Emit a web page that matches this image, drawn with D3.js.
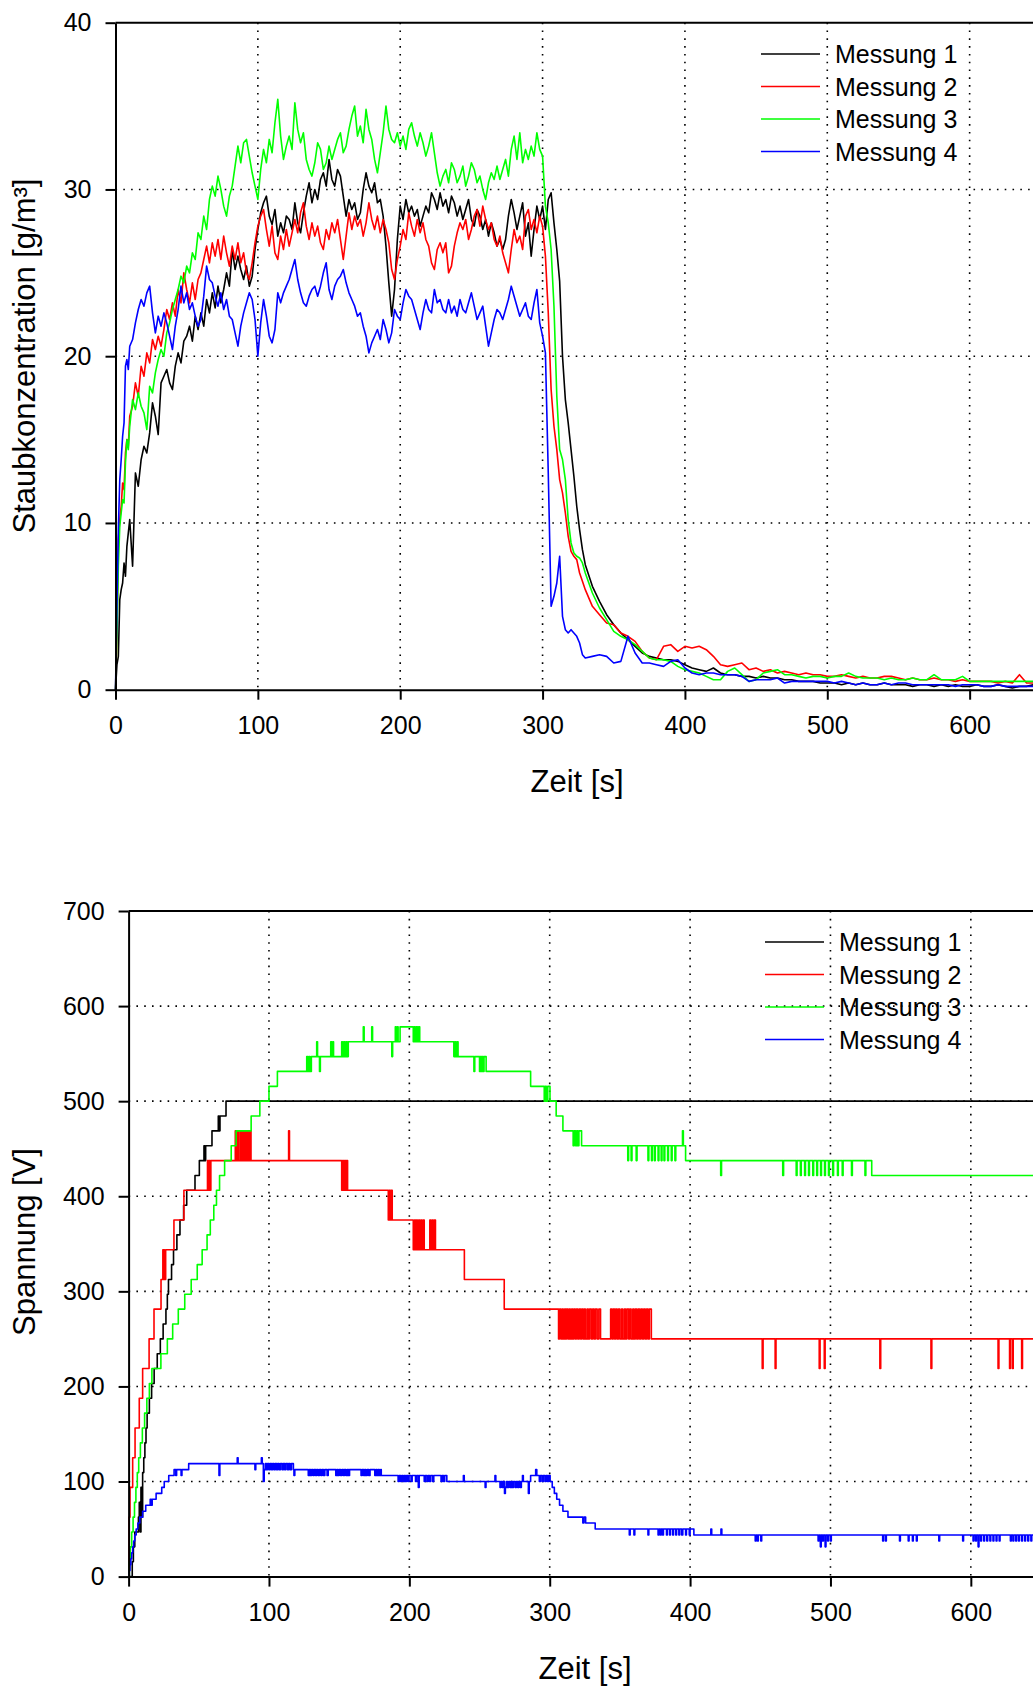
<!DOCTYPE html>
<html>
<head>
<meta charset="utf-8">
<script src="https://cdn.jsdelivr.net/npm/d3@7"></script>
<style>
  body { margin: 0; background: #fff; }
  svg text { font-family: "Liberation Sans", Arial, Helvetica, sans-serif; fill: #000; }
</style>
</head>
<body>
<svg id="chart" width="1033" height="1688"></svg>
<script>
// ---- series labels and colours ----
const seriesNames = ["Messung 1", "Messung 2", "Messung 3", "Messung 4"];
const seriesColors = ["#000000", "#ff0000", "#00ff00", "#0000ff"];

// ---- axis ticks ----
const timeTicks = [0, 100, 200, 300, 400, 500, 600];
const dustTicks = [0, 10, 20, 30, 40];
const voltTicks = [0, 100, 200, 300, 400, 500, 600, 700];

// ---- dust concentration [g/m³], sampled at these times [s] ----
const dustTime = [
  0, 1, 2, 3, 4, 5, 6, 7, 8, 9,
  10, 12, 14, 16, 18, 20, 22, 24, 26, 28,
  30, 32, 34, 36, 38, 40, 42, 44, 46, 48,
  50, 52, 54, 56, 58, 60, 62, 64, 66, 68,
  70, 72, 74, 76, 78, 80, 82, 84, 86, 88,
  90, 92, 94, 96, 98, 100, 102, 104, 106, 108,
  110, 112, 114, 116, 118, 120, 122, 124, 126, 128,
  130, 132, 134, 136, 138, 140, 142, 144, 146, 148,
  150, 152, 154, 156, 158, 160, 162, 164, 166, 168,
  170, 172, 174, 176, 178, 180, 182, 184, 186, 188,
  190, 192, 194, 196, 198, 200, 202, 204, 206, 208,
  210, 212, 214, 216, 218, 220, 222, 224, 226, 228,
  230, 232, 234, 236, 238, 240, 242, 244, 246, 248,
  250, 252, 254, 256, 258, 260, 262, 264, 266, 268,
  270, 272, 274, 276, 278, 280, 282, 284, 286, 288,
  290, 292, 294, 296, 298, 300, 302, 304, 306, 308,
  310, 312, 314, 316, 318, 320, 322, 324, 326, 328,
  330, 335, 340, 345, 350, 355, 360, 365, 370, 375,
  380, 385, 390, 395, 400, 405, 410, 415, 420, 425,
  430, 435, 440, 445, 450, 455, 460, 465, 470, 475,
  480, 485, 490, 495, 500, 505, 510, 515, 520, 525,
  530, 535, 540, 545, 550, 555, 560, 565, 570, 575,
  580, 585, 590, 595, 600, 605, 610, 615, 620, 625,
  630, 635, 640, 645, 650
];

const dust1 = [
  0, 1.5, 2.0, 5.4, 6.0, 6.4, 7.6, 6.8, 8.6, 9.4,
  10.2, 7.4, 13.0, 12.2, 13.8, 14.6, 14.2, 15.4, 17.2, 16.4,
  15.3, 18.4, 18.8, 19.2, 18.4, 18.0, 19.4, 20.2, 19.6, 20.9,
  21.2, 21.8, 20.9, 22.4, 21.6, 22.6, 21.8, 23.4, 22.6, 23.8,
  22.9, 24.2, 23.2, 24.0, 25.0, 24.2, 26.4, 25.2, 26.0, 25.2,
  24.6, 25.4, 24.2, 24.8, 26.4, 27.6, 28.6, 29.2, 29.6, 28.4,
  27.9, 28.8, 27.2, 28.0, 27.4, 28.4, 28.2, 27.6, 29.2, 28.0,
  27.4, 28.6, 29.6, 30.4, 29.2, 30.0, 29.4, 30.6, 31.0, 30.2,
  31.8, 30.6, 30.2, 31.2, 30.8, 29.6, 28.4, 29.4, 28.8, 29.2,
  28.2, 28.6, 30.0, 31.0, 30.2, 29.8, 30.4, 29.2, 29.4, 28.4,
  26.6, 24.4, 22.4, 24.0, 27.0, 29.0, 28.2, 29.4, 28.6, 29.0,
  28.4, 28.8, 27.8, 28.4, 29.0, 28.6, 29.8, 29.4, 28.8, 29.8,
  29.0, 29.4, 28.6, 29.6, 29.2, 28.4, 29.0, 28.2, 28.8, 29.4,
  28.2, 27.8, 28.8, 28.4, 27.6, 28.2, 27.2, 28.0, 27.4, 26.6,
  27.0, 26.4, 27.0, 28.4, 29.4, 28.6, 27.6, 28.4, 29.2, 27.2,
  28.0, 26.0, 27.6, 29.0, 28.2, 29.0, 27.6, 29.4, 29.8, 28.0,
  26.4, 24.5, 20.0, 17.4, 16.0, 14.4, 12.8, 11.0, 9.6, 8.4,
  7.5, 6.2, 5.3, 4.5, 3.9, 3.4, 3.0, 2.6, 2.2, 2.0,
  1.9, 1.8, 1.8, 1.7, 1.5, 1.3, 1.2, 1.1, 1.3, 1.0,
  0.9, 0.9, 0.8, 0.8, 0.7, 0.8, 0.7, 0.7, 0.6, 0.6,
  0.5, 0.5, 0.5, 0.4, 0.4, 0.4, 0.3, 0.4, 0.3, 0.4,
  0.3, 0.3, 0.4, 0.3, 0.3, 0.3, 0.2, 0.3, 0.3, 0.2,
  0.3, 0.2, 0.3, 0.2, 0.2, 0.3, 0.2, 0.2, 0.3, 0.2,
  0.1, 0.2, 0.2, 0.3, 0.2
];

const dust2 = [
  0, 3.4, 9.0, 10.2, 11.0, 12.4, 12.0, 14.2, 15.0, 14.6,
  16.4, 17.0, 18.4, 17.6, 19.4, 18.8, 20.2, 19.6, 21.0, 20.4,
  21.2, 20.6, 21.6, 22.8, 22.2, 23.2, 22.4, 24.0, 23.2, 25.0,
  24.0, 23.2, 24.4, 23.4, 24.6, 25.0, 25.8, 26.6, 25.6, 26.8,
  26.0, 27.0, 25.8, 27.2, 26.2, 25.4, 26.6, 25.8, 26.8, 25.6,
  26.2, 25.0, 24.6, 25.6, 26.8, 27.8, 28.4, 28.8, 27.6, 26.6,
  27.8, 26.2, 25.8, 27.2, 26.4, 27.6, 26.6, 27.4, 28.2, 27.4,
  28.6, 29.2, 27.8, 27.0, 28.0, 27.2, 27.8, 26.8, 26.4, 27.6,
  27.0, 28.0, 27.4, 28.2, 27.0, 25.8, 27.2, 28.6, 27.6, 28.4,
  27.8, 28.2, 27.2, 28.0, 29.2, 28.2, 27.6, 28.4, 27.4, 28.2,
  27.6, 26.8, 25.2, 24.6, 25.8, 26.6, 27.6, 27.0, 28.6, 27.8,
  27.2, 28.2, 27.4, 28.0, 27.0, 26.6, 25.6, 25.2, 26.4, 26.8,
  26.2, 26.8, 25.0, 25.4, 26.6, 27.4, 28.0, 27.6, 28.2, 27.0,
  27.6, 28.4, 28.8, 27.8, 29.0, 28.2, 27.6, 28.0, 27.0, 26.6,
  27.2, 26.2, 25.6, 25.0, 26.4, 27.6, 26.8, 27.2, 26.4, 28.4,
  28.8, 27.6, 28.2, 27.4, 28.4, 27.8, 26.0, 22.6, 18.0, 15.8,
  14.4, 12.6, 11.8, 10.6, 9.2, 8.3, 8.0, 7.8, 7.0, 6.5,
  6.0, 5.0, 4.5, 4.0, 3.9, 3.4, 3.2, 2.9, 2.3, 1.9,
  1.8, 2.6, 2.7, 2.3, 2.6, 2.5, 2.6, 2.4, 2.0, 1.5,
  1.4, 1.5, 1.6, 1.2, 1.3, 1.1, 1.2, 1.0, 1.1, 1.0,
  0.9, 1.0, 0.9, 0.9, 0.8, 0.8, 0.9, 0.8, 0.7, 0.8,
  0.7, 0.7, 0.8, 0.8, 0.7, 0.6, 0.7, 0.6, 0.6, 0.7,
  0.6, 0.6, 0.5, 0.6, 0.5, 0.5, 0.5, 0.5, 0.4, 0.5,
  0.4, 0.9, 0.4, 0.4, 0.4
];

const dust3 = [
  0, 3.4, 7.4, 9.8, 10.6, 11.4, 11.2, 13.6, 15.0, 14.4,
  15.8, 17.4, 16.8, 17.8, 17.0, 16.6, 15.6, 18.2, 17.8, 19.0,
  19.8, 20.4, 20.0, 21.4, 22.0, 22.8, 23.4, 24.0, 24.8, 24.4,
  25.4, 25.0, 26.2, 25.8, 27.4, 27.0, 28.4, 27.6, 29.4, 30.2,
  29.6, 30.8, 30.0, 29.0, 28.4, 29.6, 30.2, 31.4, 32.6, 31.6,
  32.8, 33.0, 32.0, 31.0, 30.2, 29.4, 31.2, 32.4, 31.6, 33.0,
  32.2, 34.0, 35.4, 33.2, 31.8, 32.6, 33.2, 32.4, 35.2, 33.6,
  32.8, 33.4, 31.8, 31.2, 30.8, 31.6, 32.8, 32.4, 31.2, 31.6,
  32.6, 31.8, 32.4, 33.0, 33.4, 32.2, 32.6, 33.6, 34.4, 35.0,
  33.2, 33.8, 32.8, 34.8, 33.6, 33.0, 31.8, 31.0, 32.2, 33.4,
  35.0, 33.6, 33.0, 32.8, 33.4, 32.6, 33.2, 32.4, 33.6, 34.0,
  33.2, 32.6, 33.4, 32.8, 32.0, 32.6, 33.4, 32.2, 31.0, 30.2,
  30.8, 31.2, 30.4, 31.6, 31.2, 30.4, 30.8, 31.4, 30.2, 30.8,
  31.6, 31.2, 30.4, 30.8, 30.0, 29.4, 30.4, 31.0, 30.6, 31.4,
  30.6, 31.2, 31.8, 30.8, 32.4, 33.2, 31.8, 33.4, 31.6, 32.4,
  31.8, 32.6, 32.0, 33.4, 32.4, 32.0, 29.0, 28.0, 26.4, 23.0,
  17.6, 14.4, 13.8, 12.6, 10.2, 8.8, 8.2, 8.0, 7.9, 7.6,
  7.0, 5.8, 4.9, 4.2, 3.5, 3.2, 3.0, 2.7, 2.3, 1.9,
  1.8, 1.8, 1.7, 1.4, 1.2, 1.1, 1.0, 0.8, 0.6, 0.6,
  1.1, 1.3, 0.9, 0.5, 0.6, 1.0, 1.1, 1.2, 0.9, 0.9,
  0.8, 0.7, 0.8, 0.8, 0.7, 0.8, 0.8, 1.0, 0.8, 0.7,
  0.7, 0.7, 0.6, 0.7, 0.6, 0.6, 0.7, 0.6, 0.6, 0.9,
  0.6, 0.6, 0.6, 0.8, 0.5, 0.5, 0.5, 0.5, 0.5, 0.5,
  0.5, 0.5, 0.5, 0.5, 0.5
];

const dust4 = [
  0, 5.0, 9.6, 12.6, 13.8, 15.2, 16.0, 19.4, 19.8, 19.2,
  20.6, 21.0, 22.0, 22.8, 23.4, 23.0, 23.8, 24.2, 22.6, 21.4,
  22.4, 21.8, 22.6, 22.0, 21.2, 20.4, 21.8, 22.8, 24.2, 23.2,
  23.8, 22.8, 23.2, 22.4, 21.8, 22.2, 23.6, 25.4, 24.6, 24.4,
  23.6, 23.0, 23.8, 22.8, 23.4, 22.4, 22.2, 21.4, 20.6, 21.8,
  22.6, 23.2, 23.8, 23.4, 22.2, 20.0, 22.0, 23.4, 22.4, 21.2,
  20.8, 21.6, 23.8, 23.2, 23.8, 24.2, 24.6, 25.2, 25.8, 24.6,
  23.8, 23.2, 23.0, 23.6, 24.0, 24.2, 23.6, 24.2, 25.0, 25.6,
  24.0, 23.4, 24.2, 24.6, 24.8, 25.2, 24.4, 23.8, 23.4, 23.0,
  22.4, 22.6, 21.8, 21.2, 20.2, 20.8, 21.2, 21.6, 21.0, 22.2,
  21.6, 20.8, 21.4, 22.8, 22.4, 22.2, 23.2, 24.0, 23.6, 23.4,
  22.8, 22.2, 21.6, 22.6, 23.4, 22.8, 22.6, 24.0, 23.2, 23.4,
  22.8, 22.6, 23.4, 22.6, 23.0, 22.4, 23.4, 22.8, 22.6, 23.2,
  23.8, 23.0, 22.2, 22.6, 23.0, 21.8, 20.6, 21.4, 22.2, 22.8,
  22.6, 22.2, 22.8, 23.4, 24.2, 23.6, 23.0, 22.4, 22.8, 23.2,
  22.4, 22.2, 23.2, 24.0, 22.0, 21.2, 20.2, 13.0, 5.0, 5.6,
  6.4, 8.0, 4.4, 3.6, 3.4, 3.6, 3.4, 3.2, 2.8, 2.1,
  1.9, 2.0, 2.1, 2.0, 1.6, 1.7, 3.2, 2.2, 1.6, 1.6,
  1.5, 1.4, 1.7, 1.8, 1.3, 1.0, 0.9, 1.0, 1.0, 0.9,
  0.9, 0.9, 0.8, 0.5, 0.6, 0.6, 0.6, 0.7, 0.4, 0.5,
  0.5, 0.5, 0.5, 0.5, 0.5, 0.4, 0.5, 0.4, 0.3, 0.4,
  0.3, 0.3, 0.4, 0.3, 0.4, 0.4, 0.3, 0.3, 0.3, 0.3,
  0.3, 0.3, 0.2, 0.3, 0.3, 0.3, 0.2, 0.2, 0.3, 0.2,
  0.2, 0.2, 0.2, 0.2, 0.2
];

// ---- electrode voltage [V]: [time s, level V], each level held until the next entry ----
const volt1 = [
  [0, 0], [2.6, 15.6], [3.4, 31.3], [4.4, 46.9], [7.0, 62.5], [7.6, 78.1], [8.2, 46.9], [8.8, 93.8],
  [9.4, 62.5], [10.0, 109.4], [10.8, 125], [11.6, 140.6], [12.4, 156.3], [13.2, 171.9], [14.8, 187.5],
  [16.4, 203.1], [18.2, 218.8], [20.4, 234.4], [22.6, 250], [24.6, 265.6], [26.6, 281.3], [27.6, 296.9],
  [28.4, 312.5], [30.6, 328.1], [32.0, 343.8], [34.4, 359.4], [36.6, 375], [39.2, 390.6], [41.4, 406.3],
  [47.3, 421.9], [50.4, 437.5], [53.7, 453.1], [54.3, 437.5], [54.9, 453.1], [59.4, 468.8], [63.9, 484.4],
  [64.5, 468.8], [65.1, 484.4], [69.4, 500], [700, 500]
];

const volt2 = [
  [0, 0], [0.3, 62.5], [1.0, 93.8], [2.9, 125], [4.6, 156.3], [7.6, 187.5], [10.0, 218.8], [14.6, 250],
  [18.1, 281.3], [23.1, 312.5], [24.4, 343.8], [24.8, 312.5], [25.2, 343.8], [25.6, 312.5], [26.4, 343.8],
  [32.3, 375], [39.4, 406.3], [56.2, 437.5], [56.8, 406.3], [57.4, 437.5], [58.0, 406.3], [58.6, 437.5],
  [76.0, 468.8], [76.8, 437.5], [77.6, 468.8], [78.2, 437.5], [79.4, 468.8], [80.0, 437.5], [80.8, 468.8],
  [81.4, 437.5], [82.4, 468.8], [83.0, 437.5], [83.8, 468.8], [84.4, 437.5], [85.4, 468.8], [86.0, 437.5],
  [86.6, 468.8], [87.2, 437.5], [114.0, 468.8], [114.6, 437.5],
  [151.8, 406.3], [152.4, 437.5], [153.2, 406.3], [153.8, 437.5], [154.6, 406.3], [155.2, 437.5], [156.0, 406.3],
  [185.0, 375], [185.6, 406.3], [186.4, 375], [187.0, 406.3], [187.8, 375],
  [202.8, 343.8], [203.6, 375], [204.4, 343.8], [205.0, 375], [205.8, 343.8], [206.6, 375], [207.4, 343.8],
  [208.2, 375], [209.0, 343.8], [209.8, 375], [210.6, 343.8], [214.6, 375], [215.4, 343.8], [216.2, 375],
  [217.0, 343.8], [217.8, 375], [218.6, 343.8],
  [239.2, 312.5], [267.6, 281.3],
  [306.3, 250], [307.0, 281.3], [308.0, 250], [308.8, 281.3], [309.6, 250], [310.6, 281.3], [311.4, 250],
  [312.0, 281.3], [313.0, 250], [313.8, 281.3], [314.6, 250], [315.6, 281.3], [316.4, 250], [317.2, 281.3],
  [318.2, 250], [319.0, 281.3], [320.0, 250], [321.0, 281.3], [322.0, 250], [322.8, 281.3], [323.8, 250],
  [324.6, 281.3], [325.4, 250], [326.6, 281.3], [327.4, 250], [328.4, 281.3], [329.6, 250], [330.6, 281.3],
  [331.6, 250], [332.6, 281.3], [333.8, 250], [335.0, 281.3], [336.2, 250],
  [343.4, 281.3], [344.4, 250], [345.2, 281.3], [346.2, 250], [347.0, 281.3], [348.0, 250], [349.0, 281.3],
  [350.0, 250], [351.2, 281.3], [352.0, 250], [353.2, 281.3], [354.0, 250], [355.0, 281.3], [356.2, 250],
  [357.0, 281.3], [358.0, 250], [359.2, 281.3], [360.0, 250], [361.0, 281.3], [362.0, 250], [363.0, 281.3],
  [364.0, 250], [365.0, 281.3], [366.0, 250], [367.0, 281.3], [368.0, 250], [369.0, 281.3], [370.0, 250],
  [371.0, 281.3], [372.4, 250],
  [451.4, 218.8], [452.0, 250], [460.6, 218.8], [461.2, 250], [492.0, 218.8], [492.6, 250], [495.6, 218.8],
  [496.2, 250], [535.2, 218.8], [535.8, 250], [571.6, 218.8], [572.2, 250], [619.4, 218.8], [620.0, 250],
  [627.6, 218.8], [628.2, 250], [629.6, 218.8], [630.2, 250], [636.2, 218.8], [636.8, 250], [700, 250]
];

const volt3 = [
  [0, 0], [0.5, 15.6], [1.2, 31.3], [2.2, 46.9], [3.2, 62.5], [4.2, 78.1], [5.2, 93.8], [6.2, 109.4],
  [7.2, 125], [8.4, 140.6], [9.8, 156.3], [11.4, 171.9], [13.0, 187.5], [14.8, 203.1], [16.6, 218.8],
  [23.0, 234.4], [27.6, 250], [31.4, 265.6], [35.4, 281.3], [40.0, 296.9], [44.6, 312.5], [48.9, 328.1],
  [52.4, 343.8], [55.9, 359.4], [58.2, 375], [60.7, 390.6], [62.6, 406.3], [64.8, 421.9], [68.4, 437.5],
  [73.1, 453.1], [76.6, 468.8], [87.3, 484.4], [93.5, 500], [100.0, 515.6], [106.0, 531.3],
  [126.9, 546.9], [127.6, 531.3], [128.4, 546.9], [129.2, 531.3], [130.2, 546.9], [134.0, 562.5],
  [134.6, 546.9], [136.0, 531.3], [136.6, 546.9], [144.0, 562.5], [144.6, 546.9], [145.4, 562.5],
  [146.0, 546.9], [151.8, 562.5], [152.4, 546.9], [153.2, 562.5], [154.0, 546.9], [154.8, 562.5],
  [155.6, 546.9], [156.5, 562.5], [167.2, 578.1], [167.8, 562.5], [173.2, 578.1], [173.8, 562.5],
  [187.5, 546.9], [188.1, 562.5], [190.0, 578.1], [190.6, 562.5], [191.4, 578.1], [192.0, 562.5],
  [193.4, 578.1], [202.8, 562.5], [203.4, 578.1], [204.2, 562.5], [205.0, 578.1], [205.8, 562.5],
  [206.6, 578.1], [207.4, 562.5], [231.7, 546.9], [232.3, 562.5], [233.1, 546.9], [233.9, 562.5],
  [234.7, 546.9], [246.0, 531.3], [246.6, 546.9], [250.0, 531.3], [250.6, 546.9], [251.4, 531.3],
  [252.0, 546.9], [252.6, 531.3], [253.2, 546.9], [254.7, 531.3],
  [286.4, 515.6], [296.1, 500], [296.8, 515.6], [297.6, 500], [298.6, 515.6], [300.2, 500], [304.6, 484.4],
  [309.4, 468.8], [316.7, 453.1], [317.4, 468.8], [318.4, 453.1], [319.2, 468.8], [320.0, 453.1],
  [320.8, 468.8], [322.7, 453.1],
  [355.6, 437.5], [356.2, 453.1], [358.0, 437.5], [358.6, 453.1], [361.6, 437.5], [362.2, 453.1],
  [370.0, 437.5], [370.6, 453.1], [372.5, 437.5], [373.1, 453.1], [374.6, 437.5], [375.2, 453.1],
  [377.2, 437.5], [377.8, 453.1], [379.4, 437.5], [380.0, 453.1], [381.4, 437.5], [382.0, 453.1],
  [384.0, 437.5], [384.6, 453.1], [386.6, 437.5], [387.2, 453.1], [389.2, 437.5], [389.8, 453.1],
  [394.6, 468.8], [395.2, 453.1], [396.8, 437.5],
  [421.8, 421.9], [422.4, 437.5], [466.0, 421.9], [466.6, 437.5], [475.6, 421.9], [476.2, 437.5],
  [478.6, 421.9], [479.2, 437.5], [481.6, 421.9], [482.2, 437.5], [484.4, 421.9], [485.0, 437.5],
  [487.4, 421.9], [488.0, 437.5], [490.2, 421.9], [490.8, 437.5], [493.0, 421.9], [493.6, 437.5],
  [495.8, 421.9], [496.4, 437.5], [498.6, 421.9], [499.2, 437.5], [501.6, 421.9], [502.2, 437.5],
  [505.0, 421.9], [505.6, 437.5], [508.4, 421.9], [509.0, 437.5], [515.0, 421.9], [515.6, 437.5],
  [524.6, 421.9], [525.2, 437.5], [529.4, 421.9], [700, 421.9]
];

const volt4 = [
  [0, 0], [0.5, 6.3], [1.0, 12.5], [1.6, 18.8], [2.2, 25], [2.9, 31.3], [3.6, 37.5], [4.4, 43.8],
  [5.4, 50], [6.6, 56.3], [8.0, 62.5], [10.0, 68.8], [12.2, 75], [15.4, 81.3], [16.2, 75], [16.8, 81.3],
  [19.6, 87.5], [23.6, 93.8], [25.4, 100], [28.6, 106.3], [32.4, 112.5], [33.6, 106.3], [34.2, 112.5],
  [37.4, 106.3], [38.0, 112.5], [42.8, 118.8],
  [64.4, 106.3], [65.0, 118.8], [77.4, 125], [78.0, 118.8], [90.0, 112.5], [90.6, 118.8], [94.6, 125],
  [95.2, 118.8], [96.0, 100], [96.6, 112.5], [97.4, 118.8], [98.2, 112.5], [99.0, 118.8], [100.0, 112.5],
  [100.8, 118.8], [101.8, 112.5], [102.6, 118.8], [103.6, 112.5], [104.4, 118.8], [105.4, 112.5],
  [106.2, 118.8], [107.2, 112.5], [108.2, 118.8], [109.4, 112.5], [110.2, 118.8], [111.2, 112.5],
  [112.0, 118.8], [113.2, 112.5], [114.0, 118.8], [115.0, 112.5], [116.0, 118.8], [117.4, 112.5],
  [117.8, 106.3], [118.4, 112.5],
  [128.0, 106.3], [128.8, 112.5], [129.6, 106.3], [130.4, 112.5], [131.4, 106.3], [132.2, 112.5],
  [133.2, 106.3], [134.0, 112.5], [135.0, 106.3], [136.0, 112.5], [137.0, 106.3], [137.8, 112.5],
  [138.8, 106.3], [139.8, 112.5], [141.4, 106.3], [142.2, 112.5],
  [147.6, 106.3], [148.4, 112.5], [149.2, 106.3], [150.0, 112.5], [151.0, 106.3], [152.0, 112.5],
  [153.0, 106.3], [153.8, 112.5], [154.8, 106.3], [155.8, 112.5], [156.6, 106.3], [157.4, 112.5],
  [165.6, 106.3], [166.4, 112.5], [167.4, 106.3], [168.2, 112.5], [169.0, 106.3], [170.0, 112.5],
  [171.0, 106.3], [172.0, 112.5], [175.4, 106.3], [176.2, 112.5], [177.0, 106.3], [177.8, 112.5],
  [178.6, 106.3], [179.6, 112.5], [180.0, 106.3],
  [192.0, 100], [192.8, 106.3], [193.8, 100], [194.6, 106.3], [195.6, 100], [196.4, 106.3], [197.2, 100],
  [198.0, 106.3], [199.0, 100], [199.8, 106.3], [201.2, 100], [202.0, 106.3], [204.4, 100], [205.2, 106.3],
  [206.4, 93.8], [207.0, 106.3], [210.6, 100], [211.4, 106.3], [212.6, 100], [213.4, 106.3], [214.4, 100],
  [215.2, 106.3], [216.6, 100], [217.4, 106.3], [222.6, 100], [223.4, 106.3], [224.4, 100], [225.2, 106.3],
  [226.7, 100],
  [238.5, 106.3], [239.1, 100], [254.0, 93.8], [254.6, 100], [261.0, 106.3], [261.6, 100],
  [264.6, 93.8], [265.2, 100], [266.2, 93.8], [266.8, 100], [267.8, 87.5], [268.4, 93.8], [269.2, 100],
  [270.0, 93.8], [270.8, 100], [271.8, 93.8], [272.6, 100], [273.4, 93.8], [274.2, 100], [275.4, 93.8],
  [276.2, 100], [277.2, 93.8], [278.0, 100], [279.0, 93.8], [279.8, 100], [280.6, 106.3], [281.2, 100],
  [284.8, 87.5], [285.4, 100], [286.4, 106.3], [290.0, 112.5], [290.8, 106.3], [292.6, 100], [293.4, 106.3],
  [294.6, 100], [295.4, 106.3], [296.6, 100], [297.4, 106.3], [298.4, 100], [299.2, 106.3],
  [300.3, 100], [301.8, 93.8], [303.3, 87.5], [305.0, 81.3], [307.0, 75], [309.4, 68.8], [313.0, 62.5],
  [323.6, 56.3], [324.4, 62.5], [325.6, 56.3], [332.4, 50],
  [356.7, 43.8], [357.3, 50], [360.0, 43.8], [360.6, 50], [370.0, 43.8], [370.6, 50], [377.2, 43.8],
  [377.8, 50], [378.8, 43.8], [379.4, 50], [380.4, 43.8], [381.0, 50], [383.2, 43.8], [383.8, 50],
  [385.4, 43.8], [386.0, 50], [387.6, 43.8], [388.2, 50], [389.8, 43.8], [390.4, 50], [392.0, 43.8],
  [392.6, 50], [394.0, 43.8], [394.8, 50], [396.8, 43.8], [397.4, 50], [399.4, 43.8], [400.0, 50],
  [402.7, 43.8],
  [414.8, 50], [415.4, 43.8], [422.0, 50], [422.6, 43.8],
  [446.4, 37.5], [447.0, 43.8], [448.0, 37.5], [448.6, 43.8], [450.4, 37.5], [451.0, 43.8],
  [491.2, 37.5], [491.8, 43.8], [492.8, 31.3], [493.4, 43.8], [494.4, 37.5], [495.0, 43.8], [496.2, 31.3],
  [496.8, 43.8], [498.0, 37.5], [498.6, 43.8], [500.0, 37.5], [500.6, 43.8],
  [537.2, 37.5], [537.8, 43.8], [539.2, 37.5], [539.8, 43.8], [549.2, 37.5], [549.8, 43.8], [555.4, 37.5],
  [556.0, 43.8], [558.4, 37.5], [559.0, 43.8], [561.2, 37.5], [561.8, 43.8], [577.2, 37.5], [577.8, 43.8],
  [594.2, 37.5], [594.8, 43.8],
  [601.6, 37.5], [602.2, 43.8], [603.4, 37.5], [604.0, 43.8], [605.2, 31.3], [605.8, 43.8], [607.0, 37.5],
  [607.6, 43.8], [609.2, 37.5], [609.8, 43.8], [611.4, 37.5], [612.0, 43.8], [613.6, 37.5], [614.2, 43.8],
  [615.8, 37.5], [616.4, 43.8], [618.0, 37.5], [618.6, 43.8], [620.2, 37.5], [620.8, 43.8],
  [628.2, 37.5], [628.8, 43.8], [630.0, 37.5], [630.6, 43.8], [632.0, 37.5], [632.6, 43.8], [634.0, 37.5],
  [634.6, 43.8], [636.2, 37.5], [636.8, 43.8], [638.4, 37.5], [639.0, 43.8], [640.6, 37.5], [641.2, 43.8],
  [642.8, 37.5], [643.4, 43.8], [700, 43.8]
];

// ---- drawing ----
const svg = d3.select("#chart");
const FONT_TICK = 25;

function drawPanel(p) {
  const x = d3.scaleLinear().domain([0, 700]).range([p.left, p.right]);
  const y = d3.scaleLinear().domain([0, p.yMax]).range([p.bottom, p.top]);
  const g = svg.append("g");

  // dotted grid
  const grid = g.append("g")
    .attr("stroke", "#000").attr("stroke-width", 1.6).attr("stroke-dasharray", "1.6 6.2");
  grid.selectAll("line.v").data(p.xTicks.filter(d => d > 0)).join("line")
    .attr("class", "v")
    .attr("x1", d => x(d)).attr("x2", d => x(d))
    .attr("y1", y(p.yMax)).attr("y2", y(0));
  grid.selectAll("line.h").data(p.yTicks.filter(d => d > 0 && d < p.yMax)).join("line")
    .attr("class", "h")
    .attr("x1", x(0)).attr("x2", x(700))
    .attr("y1", d => y(d)).attr("y2", d => y(d));

  // measurement curves
  const line = d3.line().x(d => x(d[0])).y(d => y(d[1])).curve(p.curve);
  p.series.forEach((s, i) => {
    g.append("path").datum(s)
      .attr("d", line)
      .attr("fill", "none")
      .attr("stroke", seriesColors[i])
      .attr("stroke-width", 1.6)
      .attr("stroke-linejoin", "round");
  });

  // top frame line
  g.append("line")
    .attr("x1", x(0)).attr("x2", x(700))
    .attr("y1", y(p.yMax)).attr("y2", y(p.yMax))
    .attr("stroke", "#000").attr("stroke-width", 2);

  // axes
  const xAxis = g.append("g")
    .attr("transform", `translate(0,${y(0)})`)
    .call(d3.axisBottom(x).tickValues(p.xTicks).tickSize(10).tickSizeOuter(0).tickPadding(17));
  const yAxis = g.append("g")
    .attr("transform", `translate(${x(0)},0)`)
    .call(d3.axisLeft(y).tickValues(p.yTicks).tickSize(10).tickSizeOuter(0).tickPadding(14));
  [xAxis, yAxis].forEach(a => {
    a.selectAll("path, line").attr("stroke", "#000").attr("stroke-width", 2);
    a.selectAll("text")
      .attr("fill", "#000")
      .style("font-size", FONT_TICK + "px")
      .style("font-family", '"Liberation Sans", Arial, sans-serif');
  });

  // axis titles
  g.append("text")
    .attr("x", p.xTitleX).attr("y", p.xTitleY)
    .attr("text-anchor", "middle")
    .style("font-size", "31px")
    .text(p.xTitle);
  g.append("text")
    .attr("transform", `translate(${p.yTitleX},${p.yTitleY}) rotate(-90)`)
    .attr("text-anchor", "middle")
    .style("font-size", "31px")
    .text(p.yTitle);

  // legend
  const lg = g.append("g");
  seriesNames.forEach((name, i) => {
    const ly = p.legendY + i * 32.5;
    lg.append("line")
      .attr("x1", p.legendX).attr("x2", p.legendX + 59)
      .attr("y1", ly).attr("y2", ly)
      .attr("stroke", seriesColors[i]).attr("stroke-width", 1.6);
    lg.append("text")
      .attr("x", p.legendX + 74).attr("y", ly + 9)
      .style("font-size", "25px")
      .text(name);
  });
}

const dustSeries = [dust1, dust2, dust3, dust4].map(vals => d3.zip(dustTime, vals));

drawPanel({
  left: 115.5, right: 1112, top: 22.7, bottom: 689.7, yMax: 40,
  xTicks: timeTicks, yTicks: dustTicks,
  series: dustSeries, curve: d3.curveLinear,
  xTitle: "Zeit [s]", xTitleX: 577, xTitleY: 792,
  yTitle: "Staubkonzentration [g/m³]", yTitleX: 35, yTitleY: 356,
  legendX: 761, legendY: 54
});

drawPanel({
  left: 128.6, right: 1111.2, top: 911, bottom: 1576.6, yMax: 700,
  xTicks: timeTicks, yTicks: voltTicks,
  series: [volt1, volt2, volt3, volt4], curve: d3.curveStepAfter,
  xTitle: "Zeit [s]", xTitleX: 585, xTitleY: 1679,
  yTitle: "Spannung [V]", yTitleX: 35, yTitleY: 1242,
  legendX: 765, legendY: 942
});
</script>
</body>
</html>
